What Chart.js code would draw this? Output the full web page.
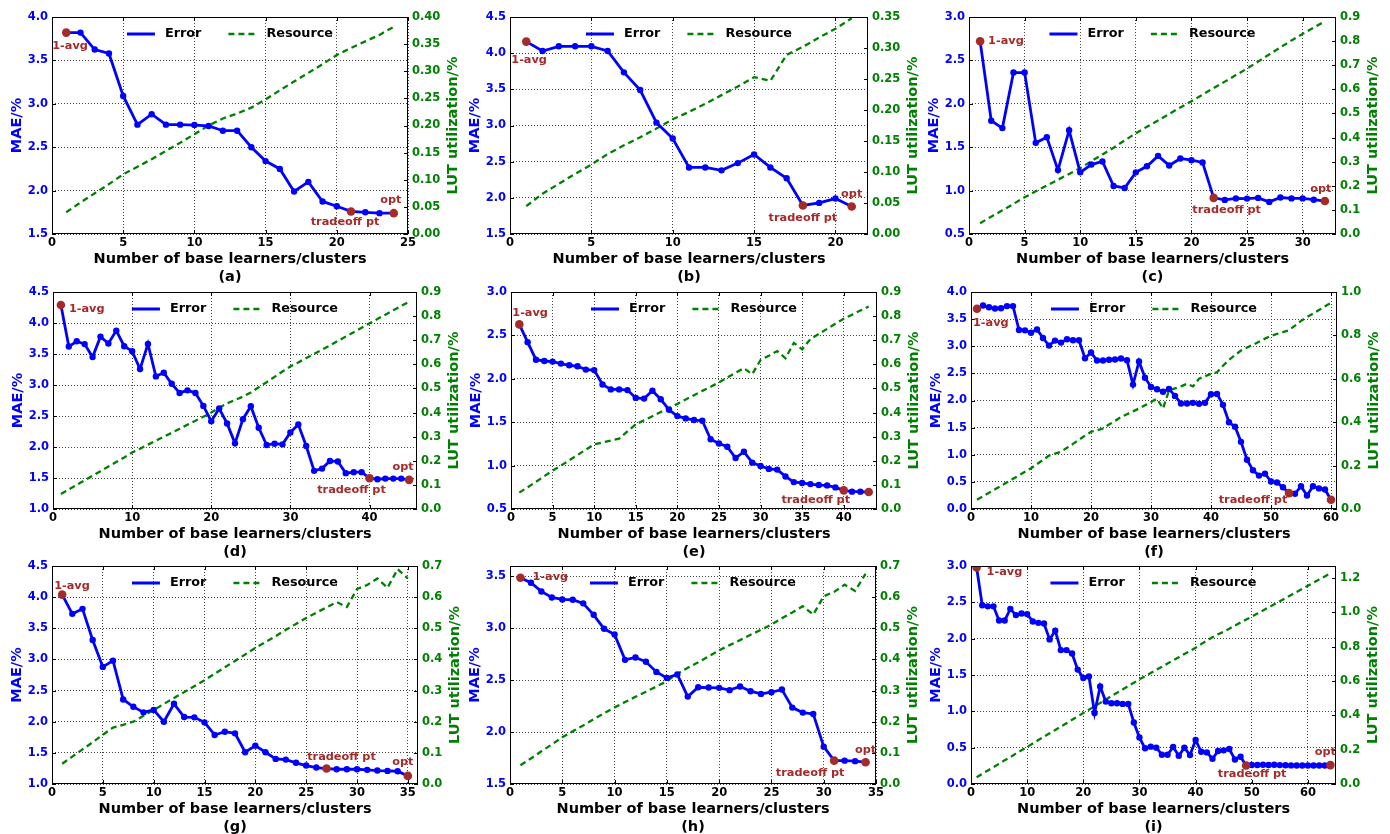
<!DOCTYPE html>
<html>
<head>
<meta charset="utf-8">
<script src="https://cdn.jsdelivr.net/npm/chart.js@4.4.0/dist/chart.umd.min.js"></script>
<style>
  html, body { margin: 0; padding: 0; background: #fff; }
  #fig { position: relative; width: 1390px; height: 834px; background: #fff; overflow: hidden; }
  #fig canvas { position: absolute; }
</style>
</head>
<body>
<div id="fig"></div>
<script>
// ---------------------------------------------------------
// Data: MAE (%) and LUT utilization (%)
// for 1..n base learners/clusters, one pair per panel
// ---------------------------------------------------------
const errA = [3.82, 3.82, 3.625, 3.58, 3.09, 2.76, 2.88, 2.76, 2.76, 2.755, 2.745, 2.69, 2.69, 2.50, 2.34, 2.25, 1.99, 2.10, 1.875, 1.82, 1.76, 1.75, 1.74, 1.74];
const resA = [0.040, 0.058, 0.075, 0.092, 0.110, 0.124, 0.138, 0.153, 0.168, 0.184, 0.200, 0.213, 0.222, 0.233, 0.248, 0.265, 0.281, 0.297, 0.313, 0.330, 0.343, 0.355, 0.367, 0.382];

const errB = [4.16, 4.03, 4.095, 4.095, 4.095, 4.03, 3.735, 3.49, 3.04, 2.82, 2.42, 2.42, 2.38, 2.48, 2.60, 2.42, 2.27, 1.895, 1.93, 1.99, 1.88];
const resB = [0.045, 0.065, 0.081, 0.097, 0.112, 0.129, 0.143, 0.156, 0.170, 0.185, 0.197, 0.210, 0.224, 0.238, 0.253, 0.247, 0.289, 0.302, 0.317, 0.331, 0.348];

const errC = [2.72, 1.805, 1.72, 2.36, 2.36, 1.55, 1.615, 1.236, 1.695, 1.21, 1.30, 1.335, 1.053, 1.03, 1.21, 1.28, 1.40, 1.29, 1.37, 1.35, 1.325, 0.916, 0.893, 0.91, 0.908, 0.916, 0.87, 0.92, 0.91, 0.91, 0.895, 0.88];
const resC = [0.045, 0.072, 0.098, 0.125, 0.152, 0.177, 0.201, 0.225, 0.249, 0.273, 0.302, 0.330, 0.358, 0.388, 0.418, 0.445, 0.471, 0.498, 0.525, 0.551, 0.578, 0.605, 0.632, 0.659, 0.686, 0.715, 0.745, 0.774, 0.803, 0.830, 0.856, 0.882];

const errD = [4.29, 3.62, 3.705, 3.66, 3.45, 3.78, 3.67, 3.877, 3.626, 3.546,
              3.257, 3.663, 3.139, 3.198, 3.02, 2.872, 2.914, 2.872, 2.663, 2.417,
              2.62, 2.38, 2.059, 2.449, 2.657, 2.31, 2.032, 2.053, 2.043, 2.235,
              2.364, 2.016, 1.615, 1.652, 1.775, 1.765, 1.578, 1.594, 1.594, 1.497,
              1.48, 1.49, 1.49, 1.49, 1.47];
const resD = [0.062, 0.081, 0.100, 0.119, 0.138, 0.157, 0.176, 0.195, 0.214, 0.234,
              0.250, 0.267, 0.283, 0.300, 0.316, 0.333, 0.350, 0.366, 0.383, 0.400,
              0.420, 0.438, 0.452, 0.466, 0.483, 0.505, 0.526, 0.548, 0.570, 0.591,
              0.608, 0.626, 0.643, 0.661, 0.678, 0.697, 0.715, 0.733, 0.752, 0.770,
              0.788, 0.806, 0.824, 0.842, 0.860];

const errE = [2.627, 2.422, 2.22, 2.205, 2.198, 2.175, 2.156, 2.144, 2.106, 2.10,
              1.935, 1.878, 1.878, 1.87, 1.78, 1.772, 1.863, 1.764, 1.643, 1.57,
              1.544, 1.525, 1.517, 1.304, 1.255, 1.217, 1.087, 1.16, 1.034, 0.996,
              0.962, 0.954, 0.875, 0.81, 0.80, 0.787, 0.776, 0.772, 0.749, 0.715,
              0.70, 0.70, 0.695];
const resE = [0.068, 0.090, 0.113, 0.136, 0.159, 0.180, 0.202, 0.224, 0.246, 0.268,
              0.276, 0.284, 0.292, 0.322, 0.351, 0.368, 0.385, 0.402, 0.419, 0.436,
              0.454, 0.472, 0.490, 0.507, 0.525, 0.545, 0.565, 0.584, 0.559, 0.618,
              0.636, 0.655, 0.625, 0.689, 0.662, 0.705, 0.726, 0.747, 0.768, 0.789,
              0.806, 0.823, 0.840];

const errF = [3.69, 3.75, 3.72, 3.695, 3.70, 3.74, 3.74, 3.30, 3.293, 3.25,
              3.31, 3.152, 3.012, 3.104, 3.067, 3.128, 3.11, 3.11, 2.78, 2.884,
              2.738, 2.738, 2.75, 2.756, 2.774, 2.744, 2.293, 2.72, 2.42, 2.25,
              2.207, 2.16, 2.213, 2.085, 1.945, 1.945, 1.957, 1.939, 1.957, 2.116,
              2.122, 1.92, 1.598, 1.518, 1.238, 0.909, 0.713, 0.616, 0.652, 0.506,
              0.488, 0.40, 0.293, 0.28, 0.42, 0.25, 0.42, 0.38, 0.36, 0.17];
const resF = [0.043, 0.059, 0.075, 0.091, 0.107, 0.123, 0.139, 0.155, 0.172, 0.188,
              0.207, 0.226, 0.246, 0.255, 0.264, 0.282, 0.300, 0.319, 0.338, 0.356,
              0.363, 0.371, 0.389, 0.406, 0.424, 0.437, 0.450, 0.463, 0.478, 0.493,
              0.508, 0.463, 0.546, 0.556, 0.565, 0.577, 0.565, 0.600, 0.612, 0.623,
              0.630, 0.660, 0.687, 0.709, 0.730, 0.744, 0.757, 0.771, 0.785, 0.798,
              0.807, 0.815, 0.824, 0.845, 0.867, 0.884, 0.900, 0.917, 0.934, 0.950];

const errG = [4.04, 3.732, 3.812, 3.311, 2.88, 2.98, 2.357, 2.24, 2.15, 2.19,
              2.0, 2.288, 2.075, 2.07, 1.99, 1.787, 1.84, 1.813, 1.51, 1.616,
              1.51, 1.403, 1.392, 1.34, 1.296, 1.264, 1.248, 1.237, 1.237, 1.237,
              1.227, 1.216, 1.21, 1.205, 1.13];
const resG = [0.065, 0.088, 0.111, 0.134, 0.158, 0.181, 0.190, 0.200, 0.219, 0.238,
              0.257, 0.276, 0.295, 0.314, 0.333, 0.354, 0.375, 0.395, 0.416, 0.437,
              0.456, 0.475, 0.495, 0.514, 0.533, 0.550, 0.567, 0.584, 0.568, 0.626,
              0.639, 0.660, 0.630, 0.690, 0.660];

const errH = [3.487, 3.439, 3.355, 3.297, 3.278, 3.275, 3.24, 3.13, 2.995, 2.94,
              2.696, 2.719, 2.677, 2.58, 2.522, 2.555, 2.342, 2.432, 2.429, 2.426,
              2.404, 2.439, 2.394, 2.368, 2.384, 2.41, 2.236, 2.188, 2.175, 1.86,
              1.725, 1.725, 1.72, 1.71];
const resH = [0.060, 0.082, 0.105, 0.127, 0.150, 0.169, 0.188, 0.208, 0.227, 0.246,
              0.263, 0.280, 0.296, 0.313, 0.330, 0.354, 0.373, 0.391, 0.410, 0.429,
              0.446, 0.462, 0.479, 0.495, 0.512, 0.532, 0.551, 0.571, 0.544, 0.603,
              0.617, 0.640, 0.620, 0.675];

const errI = [2.98, 2.46, 2.445, 2.445, 2.25, 2.25, 2.41, 2.324, 2.347, 2.338,
              2.236, 2.218, 2.208, 1.99, 2.11, 1.843, 1.843, 1.796, 1.574, 1.458,
              1.481, 0.977, 1.343, 1.134, 1.111, 1.111, 1.102, 1.102, 0.847, 0.639,
              0.491, 0.514, 0.50, 0.403, 0.403, 0.509, 0.389, 0.50, 0.398, 0.606,
              0.444, 0.435, 0.347, 0.454, 0.463, 0.481, 0.338, 0.375, 0.255, 0.262,
              0.262, 0.264, 0.262, 0.264, 0.26, 0.258, 0.256, 0.255, 0.255, 0.254,
              0.254, 0.254, 0.254, 0.26];
const resI = [0.039, 0.059, 0.079, 0.098, 0.118, 0.138, 0.157, 0.177, 0.197, 0.216,
              0.236, 0.256, 0.276, 0.295, 0.315, 0.335, 0.354, 0.374, 0.394, 0.413,
              0.433, 0.453, 0.472, 0.492, 0.512, 0.531, 0.551, 0.571, 0.590, 0.610,
              0.628, 0.646, 0.665, 0.683, 0.702, 0.720, 0.738, 0.757, 0.775, 0.794,
              0.815, 0.836, 0.855, 0.872, 0.887, 0.905, 0.923, 0.941, 0.958, 0.975,
              0.993, 1.011, 1.029, 1.047, 1.065, 1.083, 1.101, 1.119, 1.137, 1.155,
              1.173, 1.191, 1.209, 1.227];

// tradeoff point (number of learners) per panel
const tradeoffAt = [21, 18, 22, 40, 40, 53, 27, 31, 49];
const panelTags = ['(a)', '(b)', '(c)', '(d)', '(e)', '(f)', '(g)', '(h)', '(i)'];

// axis ranges / tick steps
const xMax  = [25, 22, 33, 46, 44, 61, 36, 35, 65];
const xStep = [5, 5, 5, 10, 5, 10, 5, 5, 10];
const maeMin = [1.5, 1.5, 0.5, 1.0, 0.5, 0.0, 1.0, 1.5, 0.0];
const maeMax = [4.0, 4.5, 3.0, 4.5, 3.0, 4.0, 4.5, 3.6, 3.0];
const lutMax  = [0.40, 0.35, 0.9, 0.9, 0.9, 1.0, 0.7, 0.7, 1.27];
const lutStep = [0.05, 0.05, 0.1, 0.1, 0.1, 0.2, 0.1, 0.1, 0.2];

const errs = [errA, errB, errC, errD, errE, errF, errG, errH, errI];
const ress = [resA, resB, resC, resD, resE, resF, resG, resH, resI];

// plot boxes [left, top, right, bottom] in page pixels + label offsets
const layout = [
  { box: [52, 17, 408, 234],   avg: [-14, 13, 'left'], trade: [-6, 11],  opt: [-3, -13] },
  { box: [510, 17, 868, 234],  avg: [-15, 18, 'left'], trade: [0, 13],   opt: [0, -12] },
  { box: [969, 17, 1336, 234], avg: [8, 0, 'left'],    trade: [13, 12],  opt: [-4, -12] },
  { box: [53, 292, 417, 509],  avg: [8, 4, 'left'],    trade: [-18, 12], opt: [-6, -13] },
  { box: [511, 292, 877, 509], avg: [-7, -11, 'left'], trade: [-28, 10], opt: null },
  { box: [971, 292, 1337, 509],avg: [-4, 14, 'left'],  trade: [-36, 7],  opt: null },
  { box: [52, 566, 418, 784],  avg: [-8, -9, 'left'],  trade: [15, -11], opt: [-5, -14] },
  { box: [510, 566, 876, 784], avg: [12, -1, 'left'],  trade: [-24, 12], opt: [0, -12] },
  { box: [971, 566, 1336, 784],avg: [10, 5, 'left'],   trade: [6, 9],    opt: [-5, -13] }
];

const BLUE = '#0000ff', GREEN = '#008000', BROWN = '#a52a2a';
const FONT = '"DejaVu Sans", sans-serif';
Chart.defaults.font.family = FONT;

const PAD_L = 50, PAD_T = 17, PAD_R = 64, PAD_B = 60;

// Desenha moldura, ticks internos, legenda, títulos e rótulos dos pontos
const figPlugin = {
  id: 'figDecor',
  afterDraw(chart, args, o) {
    const { ctx, chartArea: a, scales } = chart;
    const k = o.k, lay = layout[k];
    const midX = (a.left + a.right) / 2, midY = (a.top + a.bottom) / 2;
    ctx.save();

    // inward tick marks
    ctx.strokeStyle = '#000'; ctx.lineWidth = 1; ctx.setLineDash([]);
    ctx.beginPath();
    scales.x.ticks.forEach(t => {
      const px = Math.round(scales.x.getPixelForValue(t.value)) + 0.5;
      ctx.moveTo(px, a.bottom); ctx.lineTo(px, a.bottom - 4);
      ctx.moveTo(px, a.top); ctx.lineTo(px, a.top + 4);
    });
    scales.y.ticks.forEach(t => {
      const py = Math.round(scales.y.getPixelForValue(t.value)) + 0.5;
      ctx.moveTo(a.left, py); ctx.lineTo(a.left + 4, py);
    });
    scales.y2.ticks.forEach(t => {
      const py = Math.round(scales.y2.getPixelForValue(t.value)) + 0.5;
      ctx.moveTo(a.right, py); ctx.lineTo(a.right - 4, py);
    });
    ctx.stroke();

    // frame
    ctx.strokeRect(a.left + 0.5, a.top + 0.5, a.right - a.left - 1, a.bottom - a.top - 1);

    // legend (sem moldura, centrada no topo)
    ctx.font = 'bold 12.8px ' + FONT;
    ctx.textBaseline = 'middle';
    ctx.textAlign = 'left';
    const wE = ctx.measureText('Error').width, wR = ctx.measureText('Resource').width;
    const total = 28 + 10 + wE + 27 + 26 + 12 + wR;
    let x0 = midX - total / 2;
    const ly = a.top + 17;
    ctx.strokeStyle = BLUE; ctx.lineWidth = 3;
    ctx.beginPath(); ctx.moveTo(x0, ly); ctx.lineTo(x0 + 28, ly); ctx.stroke();
    ctx.fillStyle = '#000';
    ctx.fillText('Error', x0 + 38, ly);
    x0 += 38 + wE + 27;
    ctx.strokeStyle = GREEN; ctx.lineWidth = 2.3; ctx.setLineDash([6, 4]);
    ctx.beginPath(); ctx.moveTo(x0, ly); ctx.lineTo(x0 + 26, ly); ctx.stroke();
    ctx.setLineDash([]);
    ctx.fillText('Resource', x0 + 38, ly);

    // point labels
    const err = errs[k], n = err.length, tr = tradeoffAt[k];
    ctx.font = 'bold 11.3px ' + FONT;
    ctx.fillStyle = BROWN;
    const put = (txt, idx, off, align) => {
      if (!off) return;
      const px = scales.x.getPixelForValue(idx + 1);
      const py = scales.y.getPixelForValue(err[idx]);
      ctx.textAlign = off[2] || align;
      ctx.fillText(txt, px + off[0], py + off[1]);
    };
    put('1-avg', 0, lay.avg, 'left');
    put('tradeoff pt', tr - 1, lay.trade, 'center');
    put('opt', n - 1, lay.opt, 'center');

    // axis titles
    ctx.font = 'bold 14.5px ' + FONT;
    ctx.textAlign = 'center';
    ctx.fillStyle = '#000';
    ctx.fillText('Number of base learners/clusters', midX, a.bottom + 25);
    ctx.fillText(panelTags[k], midX, a.bottom + 43);

    ctx.save();
    ctx.translate(a.left - 35, midY); ctx.rotate(-Math.PI / 2);
    ctx.fillStyle = BLUE;
    ctx.fillText('MAE/%', 0, 0);
    ctx.restore();

    ctx.font = 'bold 11.5px ' + FONT;
    const wLab = Math.max(...scales.y2.ticks.map(t => ctx.measureText(t.label).width));
    ctx.font = 'bold 14.5px ' + FONT;
    ctx.save();
    ctx.translate(a.right + 4 + wLab + 13, midY); ctx.rotate(-Math.PI / 2);
    ctx.fillStyle = GREEN;
    ctx.fillText('LUT utilization/%', 0, 0);
    ctx.restore();

    ctx.restore();
  }
};

const fig = document.getElementById('fig');
const tickFont = { family: FONT, size: 11.5, weight: 'bold' };
const pts = arr => arr.map((v, i) => ({ x: i + 1, y: v }));

errs.forEach((err, k) => {
  const [L, T, R, B] = layout[k].box;
  const w = R - L + PAD_L + PAD_R, h = B - T + PAD_T + PAD_B;
  const cv = document.createElement('canvas');
  cv.width = w; cv.height = h;
  cv.style.left = (L - PAD_L) + 'px';
  cv.style.top = (T - PAD_T) + 'px';
  cv.style.width = w + 'px'; cv.style.height = h + 'px';
  fig.appendChild(cv);

  const n = err.length;
  const marks = [0, tradeoffAt[k] - 1, n - 1].map(i => ({ x: i + 1, y: err[i] }));
  const rDec = lutStep[k] < 0.1 ? 2 : 1;

  new Chart(cv, {
    type: 'line',
    data: {
      datasets: [
        { label: 'marks', data: marks, yAxisID: 'y', showLine: false, order: 0,
          pointRadius: 4.3, pointHoverRadius: 0, pointBorderWidth: 0,
          pointBackgroundColor: BROWN, borderColor: BROWN, backgroundColor: BROWN },
        { label: 'Error', data: pts(err), yAxisID: 'y', order: 1, tension: 0,
          borderColor: BLUE, backgroundColor: BLUE, borderWidth: 2.8,
          pointRadius: 3.2, pointHoverRadius: 0, pointBorderWidth: 0, pointBackgroundColor: BLUE },
        { label: 'Resource', data: pts(ress[k]), yAxisID: 'y2', order: 2, tension: 0,
          borderColor: GREEN, backgroundColor: GREEN, borderWidth: 2.3, borderDash: [6, 4],
          pointRadius: 0, pointHoverRadius: 0 }
      ]
    },
    options: {
      responsive: false,
      animation: false,
      devicePixelRatio: 1,
      events: [],
      layout: { padding: { top: PAD_T, left: 0, right: 0, bottom: 0 } },
      plugins: { legend: { display: false }, tooltip: { enabled: false }, figDecor: { k } },
      scales: {
        x: {
          type: 'linear', min: 0, max: xMax[k],
          afterFit: s => { s.height = PAD_B; },
          ticks: { stepSize: xStep[k], includeBounds: false, autoSkip: false, maxRotation: 0,
                   padding: 2, color: '#000', font: tickFont, callback: v => String(v) },
          grid: { color: '#444', lineWidth: 1, drawTicks: false },
          border: { display: false, dash: [1, 2] }
        },
        y: {
          position: 'left', min: maeMin[k], max: maeMax[k],
          afterFit: s => { s.width = PAD_L; },
          ticks: { stepSize: 0.5, includeBounds: false, padding: 4, color: BLUE, font: tickFont,
                   callback: v => v.toFixed(1) },
          grid: { color: '#444', lineWidth: 1, drawTicks: false },
          border: { display: false, dash: [1, 2] }
        },
        y2: {
          position: 'right', min: 0, max: lutMax[k],
          afterFit: s => { s.width = PAD_R; },
          ticks: { stepSize: lutStep[k], includeBounds: false, padding: 4, color: GREEN, font: tickFont,
                   callback: v => v.toFixed(rDec) },
          grid: { drawOnChartArea: false, drawTicks: false },
          border: { display: false }
        }
      }
    },
    plugins: [figPlugin]
  });
});
</script>
</body>
</html>
